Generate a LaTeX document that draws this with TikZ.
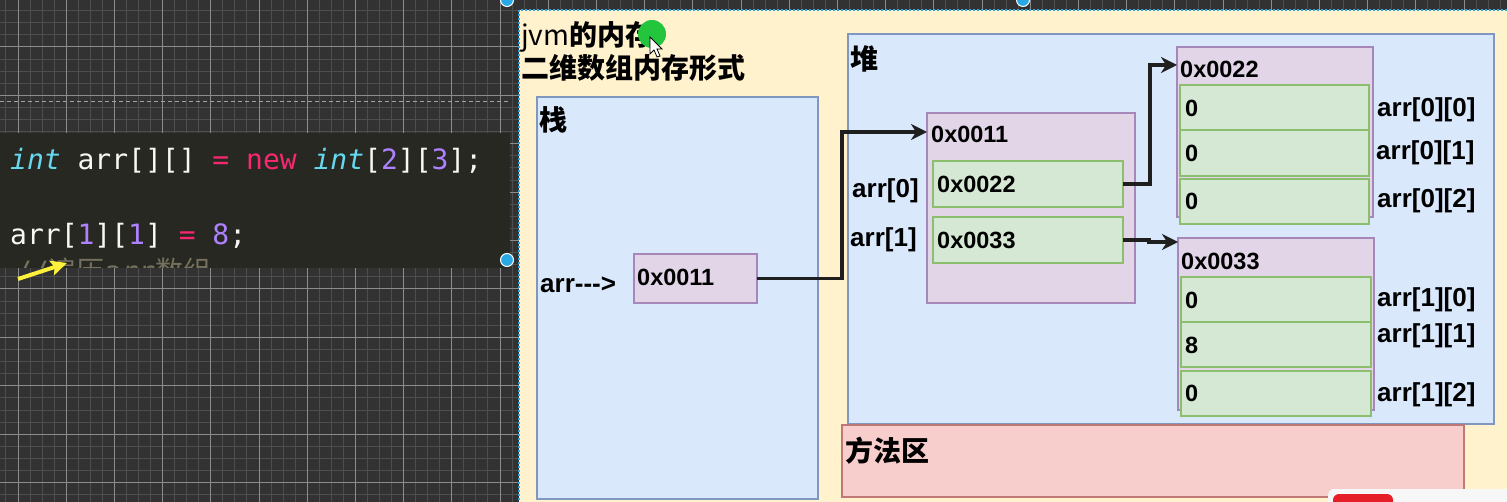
\documentclass[tikz,border=0pt]{standalone}
\usepackage{fontspec}
\setmainfont{Liberation Sans}
\newfontfamily\cjkfnt{Noto Sans CJK SC}
\newfontfamily\codefnt{DejaVu Sans Mono}
\usetikzlibrary{arrows.meta}
\definecolor{gridbg}{RGB}{50,50,50}
\definecolor{gridminor}{RGB}{78,78,78}
\definecolor{gridmajor}{RGB}{140,140,140}
\definecolor{codebg}{RGB}{39,40,34}
\definecolor{kwcyan}{RGB}{102,217,239}
\definecolor{kwpink}{RGB}{249,38,114}
\definecolor{numpurple}{RGB}{174,129,255}
\definecolor{codewhite}{RGB}{248,248,242}
\definecolor{cmtgray}{RGB}{117,113,94}
\definecolor{panelyellow}{RGB}{255,242,204}
\definecolor{stackfill}{RGB}{218,232,252}
\definecolor{stackline}{RGB}{128,152,191}
\definecolor{purfill}{RGB}{225,213,231}
\definecolor{purline}{RGB}{165,135,185}
\definecolor{grnfill}{RGB}{213,232,212}
\definecolor{grnline}{RGB}{140,190,112}
\definecolor{redfill}{RGB}{248,206,204}
\definecolor{redline}{RGB}{190,120,118}
\definecolor{selblue}{RGB}{41,168,230}
\definecolor{cursorgreen}{RGB}{34,197,60}
\definecolor{hlyellow}{RGB}{255,240,60}
\definecolor{popred}{RGB}{230,30,40}
\begin{document}
\begin{tikzpicture}[x=1pt,y=-1pt,
  box/.style={draw, inner sep=0pt, outer sep=0pt, line width=1.2pt, anchor=north west},
  stackbox/.style={box, draw=stackline, fill=stackfill},
  purbox/.style={box, draw=purline, fill=purfill},
  grnbox/.style={box, draw=grnline, fill=grnfill},
  redbox/.style={box, draw=redline, fill=redfill},
  lbl/.style={inner sep=0pt, anchor=base west, font=\fontsize{23.5}{28}\selectfont\bfseries, text=black},
  arrlbl/.style={lbl, font=\fontsize{26}{30}\selectfont\bfseries},
  cjklbl/.style={inner sep=0pt, anchor=base west, font=\cjkfnt\fontsize{28}{32}\selectfont\bfseries, text=black},
  codetxt/.style={inner sep=0pt, anchor=base west, font=\codefnt\fontsize{28}{32}\selectfont, text=codewhite},
  conn/.style={line width=3.6pt, draw=black!88, -{Stealth[length=16pt,width=16pt,inset=5pt]}},
  seldot/.style={circle, fill=selblue, draw=white, line width=1pt, minimum size=13pt, inner sep=0pt}
]
\useasboundingbox (0,0) rectangle (1507,502);
% ---------- dark grid background ----------
\fill[gridbg] (0,0) rectangle (1507,502);
\foreach \i in {0,...,125} \draw[gridminor, line width=1pt] (5.95+12.05*\i,0) -- (5.95+12.05*\i,502);
\foreach \j in {0,...,42} \draw[gridminor, line width=1pt] (0,-1.4+12.1*\j) -- (1507,-1.4+12.1*\j);
\foreach \i in {0,...,31} \draw[gridmajor, line width=1pt] (18+48.2*\i,0) -- (18+48.2*\i,502);
\foreach \j in {1,...,10} \draw[gridmajor, line width=1pt] (0,-1.4+48.4*\j) -- (1507,-1.4+48.4*\j);
\draw[gridmajor!80!white, line width=1.2pt, dash pattern=on 4pt off 3pt] (0,101.5) -- (510,101.5);
% ---------- code panel ----------
\node[box, draw=none, fill=codebg, minimum width=510pt, minimum height=135pt] (codepanel) at (0,133) {};
\node[codetxt] (code1) at (10,170) {\textcolor{kwcyan}{\itshape int} arr[][] \textcolor{kwpink}{=} \textcolor{kwpink}{new} \textcolor{kwcyan}{\itshape int}[\textcolor{numpurple}{2}][\textcolor{numpurple}{3}];};
\node[codetxt] (code2) at (10,245) {arr[\textcolor{numpurple}{1}][\textcolor{numpurple}{1}] \textcolor{kwpink}{=} \textcolor{numpurple}{8};};
\begin{scope}
\clip (0,133) rectangle (510,268);
\node[codetxt, text=cmtgray] (code3) at (15,282) {//{\cjkfnt 遍历}arr{\cjkfnt 数组}};
\end{scope}
\draw[hlyellow, line width=4pt, -{Stealth[length=16pt,width=15pt,inset=3pt]}] (18,279) -- (67,263);
% ---------- right panel ----------
\node[box, draw=none, fill=panelyellow, minimum width=1000pt, minimum height=500pt] (panel) at (519,10) {};
\draw[selblue, line width=1.2pt, dash pattern=on 2pt off 2pt] (519,520) -- (519,10) -- (1507,10);
\node[seldot] (dot1) at (507,0) {};
\node[seldot] (dot2) at (1023,0) {};
\node[seldot] (dot3) at (507,260) {};
% title
\node[cjklbl] (title1) at (521,46) {{\mdseries jvm}的内存};
\node[cjklbl] (title2) at (521,79) {二维数组内存形式};
\fill[cursorgreen] (652,34) circle (14pt);
\draw[black, fill=white, line width=0.8pt] (650,37) -- (650,54) -- (654,50) -- (657,57) -- (660,56) -- (657,49) -- (662,49) -- cycle;
% stack
\node[stackbox, minimum width=281pt, minimum height=402pt] (stack) at (537,97) {};
\node[cjklbl] (stacklbl) at (539,131) {栈};
\node[arrlbl] (arrptr) at (540,293) {arr\mbox{-}\mbox{-}\mbox{-}>};
\node[purbox, minimum width=123pt, minimum height=49pt] (s11) at (634,254) {};
\node[lbl] (s11t) at (637,286) {0x0011};
% heap
\node[stackbox, minimum width=646pt, minimum height=390pt] (heap) at (848,34) {};
\node[cjklbl] (heaplbl) at (850,70) {堆};
\node[redbox, minimum width=622pt, minimum height=72pt] (method) at (842,425) {};
\node[cjklbl] (methodlbl) at (845,461) {方法区};
% outer array
\node[purbox, minimum width=208pt, minimum height=190pt] (h11) at (927,113) {};
\node[lbl] (h11t) at (931,143) {0x0011};
\node[grnbox, minimum width=190pt, minimum height=46pt] (c22) at (933,161) {};
\node[lbl] (c22t) at (937,193) {0x0022};
\node[grnbox, minimum width=190pt, minimum height=46pt] (c33) at (933,217) {};
\node[lbl] (c33t) at (937,249) {0x0033};
\node[arrlbl] (a0) at (852,198) {arr[0]};
\node[arrlbl] (a1) at (850,247) {arr[1]};
% inner array 0
\node[purbox, minimum width=196pt, minimum height=170pt] (b22) at (1177,47) {};
\node[lbl] (b22t) at (1180,78) {0x0022};
\node[grnbox, minimum width=189pt, minimum height=45pt] (e00) at (1180,85) {};
\node[grnbox, minimum width=189pt, minimum height=46pt] (e01) at (1180,130) {};
\node[grnbox, minimum width=189pt, minimum height=45pt] (e02) at (1180,179) {};
\node[lbl] (v00) at (1185,117) {0};
\node[lbl] (v01) at (1185,162) {0};
\node[lbl] (v02) at (1185,210) {0};
\node[arrlbl] (l00) at (1377,117) {arr[0][0]};
\node[arrlbl] (l01) at (1376,160) {arr[0][1]};
\node[arrlbl] (l02) at (1377,208) {arr[0][2]};
% inner array 1
\node[purbox, minimum width=196pt, minimum height=172pt] (b33) at (1178,238) {};
\node[lbl] (b33t) at (1181,270) {0x0033};
\node[grnbox, minimum width=190pt, minimum height=45pt] (e10) at (1181,277) {};
\node[grnbox, minimum width=190pt, minimum height=45pt] (e11) at (1181,322) {};
\node[grnbox, minimum width=190pt, minimum height=45pt] (e12) at (1181,371) {};
\node[lbl] (v10) at (1185,309) {0};
\node[lbl] (v11) at (1185,354) {8};
\node[lbl] (v12) at (1185,402) {0};
\node[arrlbl] (l10) at (1377,307) {arr[1][0]};
\node[arrlbl] (l11) at (1377,343) {arr[1][1]};
\node[arrlbl] (l12) at (1377,402) {arr[1][2]};
% connectors
\draw[conn] (s11.east) -- ++(85,0) |- ([yshift=-19pt]h11.north west);
\draw[conn] (c22.east) -- ++(27,0) |- ([yshift=-18pt]b22.north west);
\draw[conn] (c33.east) -- ++(26,0) -- ++(0,2) -- ([yshift=-4pt]b33.north west);
% popup corner
\node[box, draw=none, fill=white!94!gray, rounded corners=6pt, minimum width=200pt, minimum height=40pt] (popup) at (1328,489) {};
\node[box, draw=none, fill=popred, rounded corners=6pt, minimum width=60pt, minimum height=30pt] (popbtn) at (1333,494) {};
\end{tikzpicture}
\end{document}
